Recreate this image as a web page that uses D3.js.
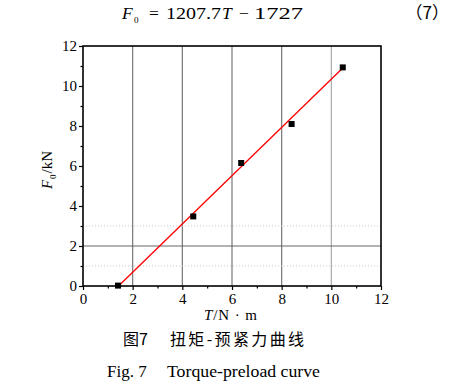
<!DOCTYPE html>
<html>
<head>
<meta charset="utf-8">
<script src="https://cdn.jsdelivr.net/npm/d3@7"></script>
<style>
  body { margin: 0; background: #fff; }
  svg { display: block; }
</style>
</head>
<body>
<svg id="chart"></svg>
<script>
// measured torque vs preload
const torque = [1.41, 4.44, 6.37, 8.4, 10.46];
const preload = [0.02, 3.48, 6.15, 8.1, 10.93];
// fitted line end points (F0 = 1207.7T - 1727)
const fitT = [1.43, 10.45];
const fitF = [0, 10.89];
const xTicks = [0, 2, 4, 6, 8, 10, 12];
const yTicks = [0, 2, 4, 6, 8, 10, 12];
const xGrid = [2, 4, 6, 8, 10];
const ySolidGrid = [2];
const yDotGrid = [1, 3];

const W = 456, H = 386;
const margin = {left: 83, right: 75, top: 46, bottom: 100};
const serif = '"Liberation Serif", "DejaVu Serif", serif';
const cjk = '"Noto Sans CJK SC", sans-serif';

const svg = d3.select('#chart').attr('width', W).attr('height', H);

const x = d3.scaleLinear().domain([0, 12]).range([margin.left, W - margin.right]);
const y = d3.scaleLinear().domain([0, 12]).range([H - margin.bottom, margin.top]);

// grid
svg.append('g').selectAll('line').data(xGrid).join('line')
  .attr('x1', d => x(d)).attr('x2', d => x(d))
  .attr('y1', y(0)).attr('y2', y(12))
  .attr('stroke', (d, i) => i === 4 ? '#aaa' : '#777').attr('stroke-width', 1.2);
svg.append('g').selectAll('line').data(ySolidGrid).join('line')
  .attr('x1', x(0)).attr('x2', x(12))
  .attr('y1', d => y(d)).attr('y2', d => y(d))
  .attr('stroke', '#555').attr('stroke-width', 0.9);
svg.append('g').selectAll('line').data(yDotGrid).join('line')
  .attr('x1', x(0)).attr('x2', x(12))
  .attr('y1', d => y(d)).attr('y2', d => y(d))
  .attr('stroke', '#bbb').attr('stroke-width', 0.8).attr('stroke-dasharray', '1,2');

// axes
svg.append('g').attr('transform', `translate(0,${y(0)})`)
  .call(d3.axisBottom(x).tickValues(xTicks).tickSize(4).tickPadding(3).tickFormat(d3.format('d')));
svg.append('g').attr('transform', `translate(${x(0)},0)`)
  .call(d3.axisLeft(y).tickValues(yTicks).tickSize(4).tickPadding(2).tickFormat(d3.format('d')));
// minor ticks
svg.append('g').attr('transform', `translate(0,${y(0)})`)
  .call(d3.axisBottom(x).tickValues(d3.range(1, 12, 2)).tickSize(2.5).tickFormat(''));
svg.append('g').attr('transform', `translate(${x(0)},0)`)
  .call(d3.axisLeft(y).tickValues(d3.range(1, 12, 2)).tickSize(2.5).tickFormat(''));
svg.selectAll('.domain').remove();
svg.selectAll('.tick line').attr('stroke', '#000').attr('stroke-width', 1.2);
svg.selectAll('.tick text').attr('font-family', serif).attr('font-size', 15).attr('fill', '#000');

// frame
svg.append('rect')
  .attr('x', x(0)).attr('y', y(12))
  .attr('width', x(12) - x(0)).attr('height', y(0) - y(12))
  .attr('fill', 'none').attr('stroke', '#000').attr('stroke-width', 1.6);

// fit line
svg.append('line')
  .attr('x1', x(fitT[0])).attr('y1', y(fitF[0]))
  .attr('x2', x(fitT[1])).attr('y2', y(fitF[1]))
  .attr('stroke', '#f00').attr('stroke-width', 1.3);

// points
const pts = torque.map((t, i) => ({t: t, f: preload[i]}));
svg.append('g').selectAll('rect').data(pts).join('rect')
  .attr('x', d => x(d.t) - 3).attr('y', d => y(d.f) - 3)
  .attr('width', 6).attr('height', 6).attr('fill', '#000');

// axis titles
const xt = svg.append('text')
  .attr('x', 204).attr('y', 320)
  .attr('font-family', serif).attr('font-size', 15)
  .attr('textLength', 53).attr('lengthAdjust', 'spacing');
xt.append('tspan').attr('font-style', 'italic').text('T');
xt.append('tspan').text('/N · m');

const yt = svg.append('text')
  .attr('transform', `translate(52,170) rotate(-90)`).attr('text-anchor', 'middle')
  .attr('font-family', serif).attr('font-size', 15);
yt.append('tspan').attr('font-style', 'italic').text('F');
yt.append('tspan').attr('font-size', 9).attr('dy', 4).attr('dx', 1).text('0');
yt.append('tspan').attr('dy', -4).attr('dx', 1).text('/kN');

// equation
const eqAt = (px, txt, italic) => svg.append('text')
  .attr('x', px).attr('y', 19)
  .attr('font-family', serif).attr('font-size', 17.5)
  .attr('font-style', italic ? 'italic' : 'normal').text(txt);
eqAt(122, 'F', true);
svg.append('text').attr('x', 134).attr('y', 23)
  .attr('font-family', serif).attr('font-size', 9).text('0');
eqAt(149, '=');
eqAt(166, '1207.7', false).attr('textLength', 55).attr('lengthAdjust', 'spacingAndGlyphs');
eqAt(222, 'T', true);
eqAt(239, '−');
eqAt(254, '1727').attr('textLength', 49).attr('lengthAdjust', 'spacingAndGlyphs');
svg.append('text')
  .attr('x', 449).attr('y', 19).attr('text-anchor', 'end')
  .attr('font-family', cjk).attr('font-size', 17).text('（7）');

// captions
svg.append('text')
  .attr('x', 123).attr('y', 345)
  .attr('font-family', cjk).attr('font-size', 16).text('图7');
svg.append('text')
  .attr('x', 170).attr('y', 345)
  .attr('font-family', cjk).attr('font-size', 16)
  .attr('textLength', 134).attr('lengthAdjust', 'spacing').text('扭矩-预紧力曲线');
svg.append('text')
  .attr('x', 107).attr('y', 377)
  .attr('font-family', serif).attr('font-size', 17).text('Fig. 7');
svg.append('text')
  .attr('x', 167).attr('y', 377)
  .attr('font-family', serif).attr('font-size', 17)
  .attr('textLength', 153).attr('lengthAdjust', 'spacingAndGlyphs').text('Torque-preload curve');
</script>
</body>
</html>
